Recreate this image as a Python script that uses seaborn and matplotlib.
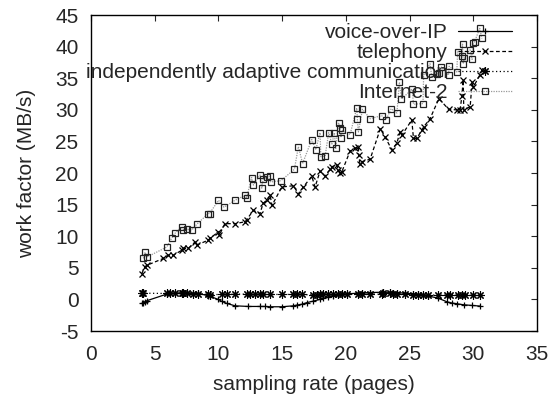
import matplotlib
matplotlib.use("Agg")
import matplotlib.pyplot as plt
import seaborn as sns
import pandas as pd

# ---- data ----
voip_x = [3.98, 4.1, 4.24, 4.37, 5.94, 6.2, 6.6, 7.12, 7.25, 7.51, 8.03, 8.42, 9.2, 9.34,
          10.0, 10.26, 10.65, 11.3, 12.35, 13.27, 13.66, 14.05, 14.97, 15.88, 16.15, 16.54,
          16.93, 17.45, 17.97, 18.23, 18.63, 19.02, 19.41, 19.68, 20.07, 20.98, 21.25, 21.9,
          22.82, 22.94, 23.47, 23.73, 24.0, 24.65, 25.3, 25.69, 26.08, 26.48, 27.26, 27.92,
          28.3, 28.7, 29.23, 29.88, 30.53]
voip_y = [-0.62, -0.5, -0.35, -0.2, 0.85, 0.95, 1.0, 1.05, 1.05, 1.05, 1.0, 0.95, 0.6, 0.5,
          0.0, -0.3, -0.62, -1.0, -1.1, -1.1, -1.1, -1.15, -1.15, -1.0, -0.88, -0.75,
          -0.5, -0.25, 0.02, 0.2, 0.4, 0.6, 0.72, 0.8, 0.9, 1.0, 1.05, 1.1,
          1.15, 1.15, 1.15, 1.1, 1.1, 1.0, 0.9, 0.8, 0.7, 0.55, 0.2, -0.36,
          -0.55, -0.67, -0.83, -0.94, -1.04]

tel_x = [3.98, 4.24, 4.37, 5.68, 6.07, 6.46, 7.12, 7.25, 7.64, 8.16, 8.3, 9.2, 9.34, 10.0,
         10.07, 10.5, 11.3, 12.1, 12.2, 12.74, 13.26, 13.5, 13.8, 14.05, 14.2, 14.97, 15.88,
         16.27, 16.66, 17.32, 17.58, 17.97, 18.37, 18.76, 18.9, 19.28, 19.4, 19.54, 19.68,
         20.33, 20.72, 20.98, 21.0, 21.1, 21.25, 21.9, 22.7, 23.08, 23.6, 23.99, 24.25,
         24.39, 25.17, 25.3, 25.56, 25.96, 26.1, 26.6, 27.3, 28.05, 28.7, 28.96, 29.1,
         29.2, 29.25, 29.75, 29.9, 30.0, 30.5, 30.67]
tel_y = [4.1, 5.2, 5.4, 6.5, 7.0, 7.0, 7.8, 8.1, 8.1, 9.1, 8.6, 9.4, 9.7, 10.7,
         10.2, 12.0, 12.0, 12.3, 12.6, 14.1, 13.6, 15.2, 15.7, 16.5, 14.9, 17.8, 18.0,
         16.7, 17.8, 19.5, 17.8, 20.3, 19.5, 20.6, 21.0, 21.3, 20.5, 20.0, 20.2,
         23.5, 23.9, 24.2, 22.8, 21.5, 21.8, 22.2, 27.0, 25.7, 23.7, 24.7, 26.5,
         26.0, 28.4, 25.5, 25.5, 26.8, 27.3, 28.6, 31.8, 30.1, 30.0, 30.0, 32.2,
         34.7, 30.0, 30.5, 34.4, 33.6, 35.5, 36.3]

iac_x = [3.98, 4.1, 5.94, 6.2, 6.6, 7.12, 7.25, 7.51, 8.03, 8.42, 9.2, 9.34, 10.26, 10.65,
         11.3, 12.22, 12.48, 12.87, 13.27, 13.52, 14.05, 14.97, 15.88, 16.15, 16.54, 17.45,
         17.72, 17.97, 18.23, 18.63, 19.02, 19.41, 19.68, 20.07, 20.98, 21.25, 21.9, 22.82,
         22.94, 23.47, 23.73, 24.0, 24.65, 25.3, 25.69, 26.08, 26.48, 27.26, 27.92, 28.18,
         28.83, 29.1, 29.36, 30.0, 30.53]
iac_y = [1.0, 1.0, 0.95, 0.95, 0.95, 1.0, 0.95, 0.95, 0.9, 0.9, 0.85, 0.7, 0.85, 0.8,
         0.85, 0.85, 0.85, 0.8, 0.85, 0.8, 0.8, 0.8, 0.8, 0.85, 0.8, 0.7,
         0.75, 0.8, 0.85, 0.85, 0.85, 0.85, 0.8, 0.9, 0.85, 0.85, 0.85, 0.85,
         1.05, 1.05, 0.85, 0.85, 0.8, 0.75, 0.75, 0.75, 0.7, 0.7, 0.7, 0.75,
         0.75, 0.7, 0.75, 0.7, 0.7]

i2_x = [4.1, 4.24, 4.37, 5.94, 6.33, 6.6, 7.12, 7.25, 7.5, 7.9, 8.3, 9.2, 9.3, 10.0, 10.44,
        11.3, 12.1, 12.2, 12.6, 12.74, 13.26, 13.4, 13.5, 13.8, 14.05, 14.1, 14.9, 15.96,
        16.27, 16.6, 17.32, 17.64, 17.97, 18.03, 18.37, 18.65, 18.9, 19.1, 19.2, 19.42,
        19.54, 19.6, 19.68, 20.33, 20.85, 20.9, 20.98, 21.3, 21.9, 22.8, 23.15, 23.55,
        24.0, 24.2, 24.36, 25.2, 25.3, 26.05, 26.1, 26.6, 26.74, 27.13, 27.3, 27.5, 28.05,
        28.1, 28.7, 28.77, 29.1, 29.15, 29.2, 29.3, 29.75, 29.9, 30.0, 30.1, 30.5, 30.67]
i2_y = [6.5, 7.5, 6.7, 8.3, 9.7, 10.5, 11.5, 11.0, 11.1, 11.0, 11.9, 13.6, 13.6, 15.7, 14.6,
        15.7, 16.5, 16.0, 19.3, 18.1, 19.7, 17.6, 19.0, 19.4, 19.5, 18.6, 18.8, 20.6,
        24.2, 21.5, 25.3, 23.7, 26.4, 22.6, 22.7, 26.4, 24.6, 26.4, 23.9, 28.0,
        27.2, 25.6, 26.8, 26.1, 30.3, 28.5, 26.5, 30.1, 28.6, 29.1, 28.4, 30.2,
        29.5, 34.4, 31.7, 33.3, 30.9, 31.0, 35.5, 37.3, 35.2, 35.6, 35.8, 36.8, 35.5,
        36.9, 36.0, 39.2, 38.6, 40.4, 37.3, 38.2, 39.5, 38.0, 40.6, 40.8, 42.9, 41.3]

labels = ["voice-over-IP", "telephony", "independently adaptive communication", "Internet-2"]
x_ticks = [0, 5, 10, 15, 20, 25, 30, 35]
y_ticks = [-5, 0, 5, 10, 15, 20, 25, 30, 35, 40, 45]

# ---- style ----
sns.set_style("white")
plt.rcParams.update({
    "font.family": ["Liberation Sans", "DejaVu Sans"],
    "font.size": 15,
    "axes.unicode_minus": False,
    "xtick.direction": "in",
    "ytick.direction": "in",
    "xtick.top": True,
    "ytick.right": True,
    "xtick.major.size": 4.5,
    "ytick.major.size": 4.5,
    "xtick.major.width": 0.8,
    "ytick.major.width": 0.8,
    "xtick.major.pad": 10,
    "ytick.major.pad": 9,
    "axes.linewidth": 1.0,
    "axes.edgecolor": "black",
})

fig = plt.figure(figsize=(5.53, 3.97), dpi=100)
ax = fig.add_axes([0.1646, 0.166, 0.8066, 0.796])

series = [
    (voip_x, voip_y, dict(color="black", linestyle="-", marker="+", markersize=5,
                          markeredgecolor="black", markeredgewidth=0.9, linewidth=0.9)),
    (tel_x, tel_y, dict(color="black", linestyle=(0, (3, 2)), marker="x", markersize=5,
                        markeredgecolor="black", markeredgewidth=0.9, linewidth=0.9)),
    (iac_x, iac_y, dict(color="black", linestyle=(0, (1, 2)), marker=(8, 2, 0), markersize=6,
                        markeredgecolor="black", markeredgewidth=0.8, linewidth=0.9)),
    (i2_x, i2_y, dict(color="#999999", linestyle=(0, (1, 1)), marker="s", markersize=4.8,
                      markerfacecolor="none", markeredgecolor="#222222",
                      markeredgewidth=0.9, linewidth=0.9)),
]

for (xs, ys, kw), lab in zip(series, labels):
    df = pd.DataFrame({"x": xs, "y": ys})
    sns.lineplot(data=df, x="x", y="y", ax=ax, estimator=None, sort=False,
                 label=lab, **kw)

ax.set_xlim(0, 35)
ax.set_ylim(-5, 45)
ax.set_xticks(x_ticks)
ax.set_yticks(y_ticks)
ax.set_xlabel("sampling rate (pages)", labelpad=8)
ax.set_ylabel("work factor (MB/s)", labelpad=14)

leg = ax.legend(loc="upper right", bbox_to_anchor=(0.944, 0.974), frameon=False,
                markerfirst=False, handlelength=2.6, handletextpad=0.5,
                labelspacing=0.05, borderpad=0, borderaxespad=0, fontsize=15)

fig.savefig("out.png", dpi=100)
